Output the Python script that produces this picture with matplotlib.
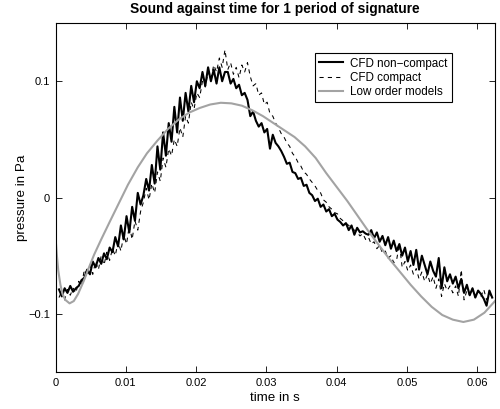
import numpy as np
import matplotlib
matplotlib.use('Agg')
import matplotlib.pyplot as plt

plt.rcParams['font.family'] = ['Liberation Sans', 'DejaVu Sans']

# time grid of the CFD samples [s]
t_start, t_step, n_cfd = 0.0005, 0.0004, 155

# CFD non-compact pressure [Pa]
p_noncompact = [
    -0.079, -0.085, -0.078, -0.082, -0.076, -0.081, -0.078, -0.076, -0.071, -0.069,
    -0.062, -0.066, -0.055, -0.060, -0.052, -0.057, -0.048, -0.053, -0.043, -0.047,
    -0.034, -0.042, -0.024, -0.036, -0.016, -0.030, -0.008, -0.020, 0.004, -0.006,
    0.002, 0.016, 0.006, 0.028, 0.012, 0.044, 0.024, 0.056, 0.036, 0.064,
    0.048, 0.078, 0.056, 0.086, 0.066, 0.090, 0.074, 0.096, 0.082, 0.100,
    0.094, 0.108, 0.096, 0.112, 0.100, 0.110, 0.098, 0.112, 0.100, 0.108,
    0.108, 0.098, 0.102, 0.094, 0.097, 0.088, 0.090, 0.084, 0.070, 0.074,
    0.066, 0.061, 0.064, 0.056, 0.059, 0.042, 0.054, 0.047, 0.044, 0.040,
    0.035, 0.029, 0.030, 0.022, 0.021, 0.016, 0.017, 0.010, 0.011, 0.004,
    0.002, -0.003, -0.001, -0.008, -0.006, -0.012, -0.010, -0.016, -0.014, -0.019,
    -0.021, -0.024, -0.022, -0.028, -0.024, -0.032, -0.026, -0.030, -0.029, -0.031,
    -0.032, -0.028, -0.035, -0.030, -0.038, -0.033, -0.041, -0.034, -0.044, -0.037,
    -0.046, -0.040, -0.050, -0.043, -0.055, -0.046, -0.058, -0.045, -0.062, -0.050,
    -0.058, -0.066, -0.055, -0.063, -0.068, -0.052, -0.078, -0.060, -0.072, -0.066,
    -0.074, -0.068, -0.078, -0.070, -0.082, -0.075, -0.084, -0.078, -0.086, -0.080,
    -0.083, -0.087, -0.093, -0.080, -0.086,
]

# CFD compact pressure [Pa]
p_compact = [
    -0.086, -0.080, -0.088, -0.079, -0.084, -0.078, -0.082, -0.072, -0.076, -0.062,
    -0.068, -0.058, -0.066, -0.055, -0.062, -0.050, -0.058, -0.047, -0.054, -0.044,
    -0.050, -0.038, -0.046, -0.032, -0.040, -0.024, -0.036, -0.020, -0.028, -0.012,
    -0.004, 0.008, -0.002, 0.012, 0.004, 0.022, 0.014, 0.034, 0.026, 0.042,
    0.036, 0.050, 0.044, 0.060, 0.052, 0.070, 0.064, 0.082, 0.076, 0.090,
    0.086, 0.100, 0.095, 0.108, 0.102, 0.114, 0.108, 0.120, 0.112, 0.127,
    0.110, 0.116, 0.106, 0.112, 0.103, 0.114, 0.108, 0.116, 0.104, 0.096,
    0.098, 0.088, 0.090, 0.080, 0.082, 0.072, 0.070, 0.064, 0.060, 0.055,
    0.052, 0.047, 0.044, 0.038, 0.035, 0.030, 0.027, 0.022, 0.020, 0.016,
    0.013, 0.010, 0.006, 0.004, -0.002, -0.004, -0.008, -0.010, -0.013, -0.014,
    -0.018, -0.020, -0.022, -0.024, -0.026, -0.028, -0.030, -0.033, -0.031, -0.036,
    -0.034, -0.040, -0.038, -0.044, -0.041, -0.048, -0.046, -0.052, -0.050, -0.056,
    -0.054, -0.040, -0.060, -0.055, -0.063, -0.058, -0.066, -0.061, -0.070, -0.064,
    -0.072, -0.066, -0.074, -0.068, -0.078, -0.070, -0.085, -0.074, -0.080, -0.076,
    -0.082, -0.076, -0.085, -0.062, -0.088, -0.080, -0.084, -0.078, -0.086, -0.080,
    -0.085, -0.079, -0.088, -0.082, -0.086,
]

# low order model
t_model = [0, 0.0002, 0.0004, 0.0007, 0.001, 0.0014, 0.002, 0.0026, 0.0032, 0.004,
           0.0047, 0.0055, 0.0065, 0.0077, 0.009, 0.0103, 0.0117, 0.013, 0.0145, 0.016,
           0.0175, 0.019, 0.0205, 0.022, 0.0235, 0.025, 0.0265, 0.028, 0.0295, 0.031,
           0.0325, 0.034, 0.0355, 0.037, 0.0385, 0.040, 0.0415, 0.043, 0.0445, 0.046,
           0.0475, 0.049, 0.0505, 0.052, 0.0535, 0.055, 0.0565, 0.058, 0.0595, 0.061,
           0.0625]
p_model = [-0.034, -0.050, -0.063, -0.075, -0.083, -0.088, -0.091, -0.089, -0.083, -0.072,
           -0.061, -0.049, -0.036, -0.021, -0.005, 0.011, 0.026, 0.038, 0.049, 0.059,
           0.067, 0.073, 0.077, 0.080, 0.0815, 0.081, 0.079, 0.075, 0.070, 0.064,
           0.058, 0.052, 0.044, 0.034, 0.021, 0.009, -0.003, -0.016, -0.029, -0.041,
           -0.053, -0.064, -0.075, -0.085, -0.094, -0.101, -0.105, -0.107, -0.105, -0.099,
           -0.089]

xticks = [0, 0.01, 0.02, 0.03, 0.04, 0.05, 0.06]
xticklabels = ['0', '0.01', '0.02', '0.03', '0.04', '0.05', '0.06']
yticks = [-0.1, 0, 0.1]
yticklabels = ['\u22120.1', '0', '0.1']

t_cfd = t_start + t_step * np.arange(n_cfd)

fig = plt.figure(figsize=(5.0, 4.09), dpi=100)
ax = fig.add_axes([0.111, 0.0905, 0.879, 0.853])

ax.plot(t_cfd, p_noncompact, '-', color='black', lw=1.5, label='CFD non\u2212compact')
ax.plot(t_cfd, p_compact, '--', color='black', lw=0.75, dashes=(4, 4), label='CFD compact')
ax.plot(t_model, p_model, '-', color='#a3a3a3', lw=1.5, label='Low order models')

ax.set_xlim(0, 0.0625)
ax.set_ylim(-0.15, 0.15)
ax.set_xticks(xticks)
ax.set_xticklabels(xticklabels)
ax.set_yticks(yticks)
ax.set_yticklabels(yticklabels)
ax.tick_params(direction='in', top=True, right=True, length=4, width=0.6,
               labelsize=8, pad=4)
for s in ax.spines.values():
    s.set_linewidth(0.8)

ax.set_xlabel('time in s', fontsize=9.6, labelpad=3)
ax.set_ylabel('pressure in Pa', fontsize=9.6, labelpad=0)
ax.set_title('Sound against time for 1 period of signature', fontsize=9.9,
             fontweight='bold', pad=7)

leg = ax.legend(loc='upper left', bbox_to_anchor=(0.59, 0.913), fontsize=8.4,
                fancybox=False, framealpha=1, edgecolor='black', handlelength=2.1,
                borderpad=0.35, labelspacing=0.2, handletextpad=0.6, borderaxespad=0)
leg.get_frame().set_linewidth(0.8)

plt.savefig('out.png', dpi=100)
